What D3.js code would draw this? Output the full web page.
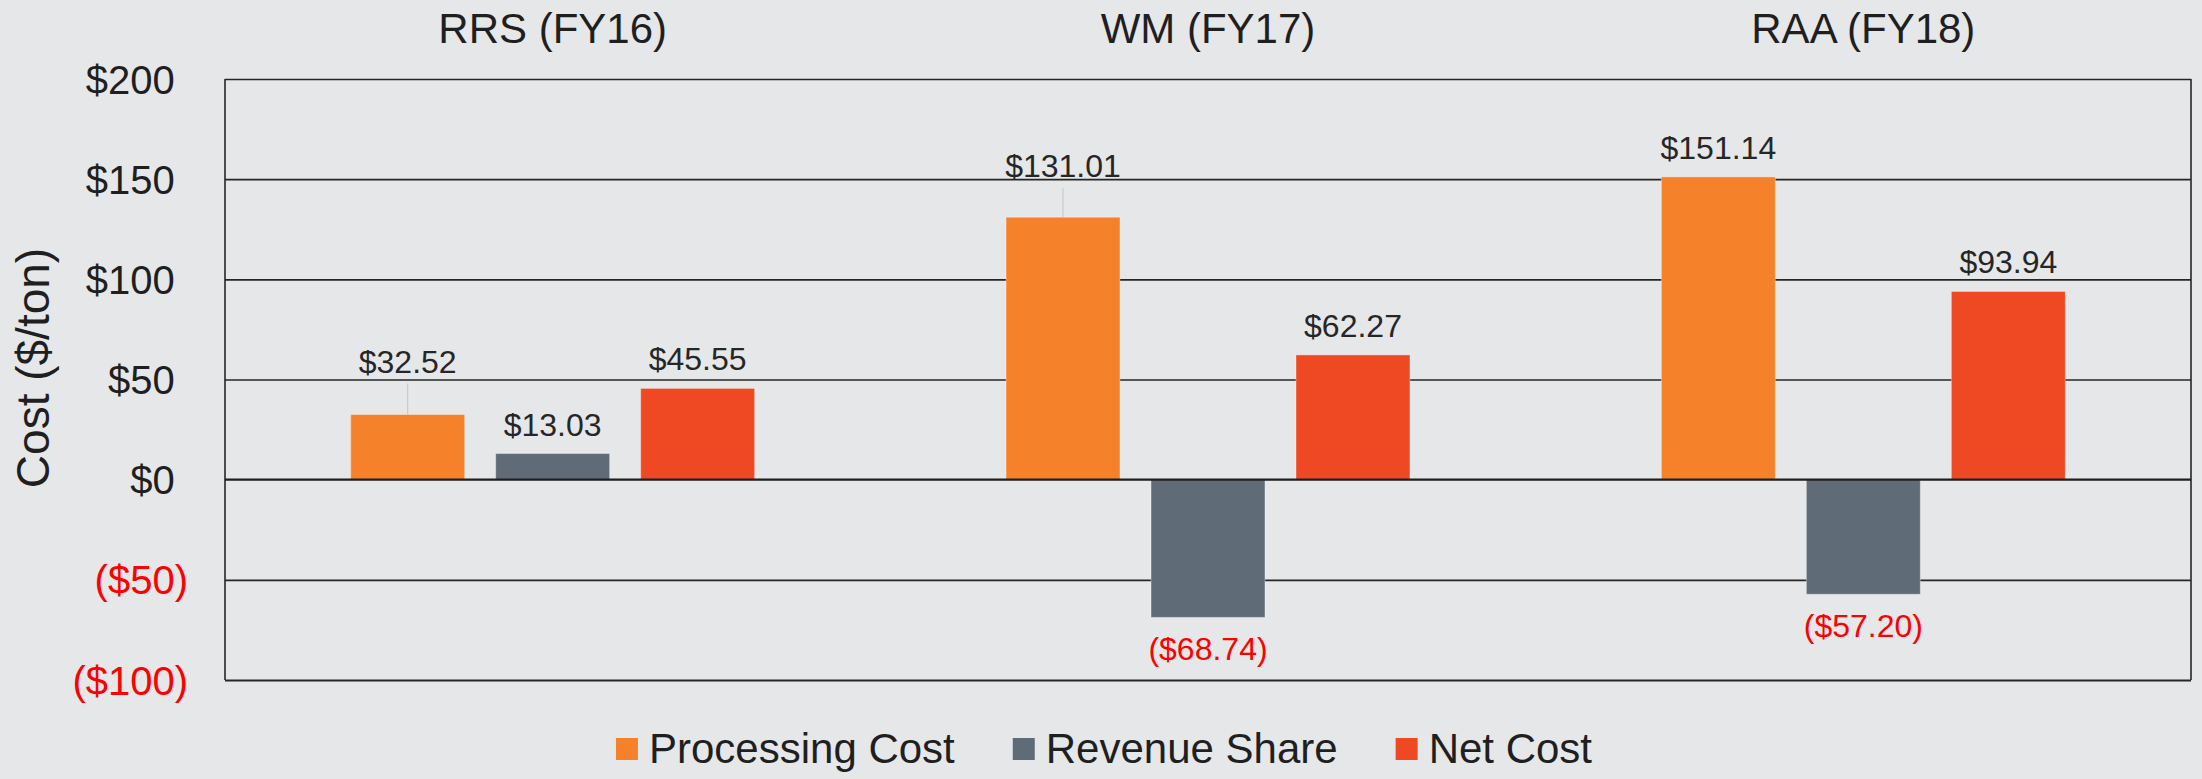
<!DOCTYPE html>
<html>
<head>
<meta charset="utf-8">
<script src="https://cdn.jsdelivr.net/npm/d3@7"></script>
<style>
  body { margin: 0; background: #e6e7e9; }
  svg { display: block; font-family: "Liberation Sans", Arial, sans-serif; }
</style>
</head>
<body>
<svg id="chart" width="2202" height="779"></svg>
<script>
// chart data
var groups = ["RRS (FY16)", "WM (FY17)", "RAA (FY18)"];
var seriesNames = ["Processing Cost", "Revenue Share", "Net Cost"];
var processingCost = [32.52, 131.01, 151.14];
var revenueShare = [13.03, -68.74, -57.20];
var netCost = [45.55, 62.27, 93.94];
var yTicks = [200, 150, 100, 50, 0, -50, -100];
var colors = ["#f5822a", "#5f6b76", "#ef4923"];

var seriesValues = [processingCost, revenueShare, netCost];

var svg = d3.select("#chart"),
    margin = {top: 79, right: 11, bottom: 99, left: 225},
    width = +svg.attr("width") - margin.left - margin.right,
    height = +svg.attr("height") - margin.top - margin.bottom;

var x0 = d3.scaleBand().domain(groups).range([margin.left, margin.left + width]);
var x1 = d3.scaleBand().domain(seriesNames).range([0, x0.bandwidth()])
    .paddingInner(0.214).paddingOuter(0.867);
var y = d3.scaleLinear().domain([-100, 200]).range([margin.top + height, margin.top]);

function money(v) {
  var s = "$" + d3.format(",.2f")(Math.abs(v));
  return v < 0 ? "(" + s + ")" : s;
}

// gridlines (all but zero)
svg.append("g")
    .attr("class", "grid")
    .attr("transform", "translate(" + margin.left + ",0)")
    .call(d3.axisLeft(y).tickValues(yTicks.filter(function(d) { return d != 0; }))
      .tickSize(-width).tickFormat(""))
    .call(function(g) {
      g.select(".domain").remove();
      g.selectAll("line").attr("stroke", "#262626")
        .attr("stroke-width", function(d) { return d == -100 ? 2.2 : 1.6; });
    });

// frame sides
svg.append("line").attr("x1", margin.left).attr("x2", margin.left)
    .attr("y1", y(200)).attr("y2", y(-100)).attr("stroke", "#262626").attr("stroke-width", 1.6);
svg.append("line").attr("x1", margin.left + width).attr("x2", margin.left + width)
    .attr("y1", y(200)).attr("y2", y(-100)).attr("stroke", "#262626").attr("stroke-width", 1.6);

// y tick labels, positive ones padded with an invisible ")" like the Excel format
var yLabels = svg.append("g")
    .attr("transform", "translate(188,0)")
    .call(d3.axisLeft(y).tickValues(yTicks).tickSize(0).tickPadding(0)
      .tickFormat(function(d) { return d < 0 ? "($" + Math.abs(d) + ")" : "$" + d; }));
yLabels.select(".domain").remove();
yLabels.selectAll("text")
    .attr("font-size", 40)
    .attr("font-family", "Liberation Sans, Arial, sans-serif")
    .attr("dy", "0.35em")
    .attr("fill", function(d) { return d < 0 ? "#ff0000" : "#1f1f1f"; })
    .each(function(d) {
      if (d >= 0) d3.select(this).append("tspan").attr("fill-opacity", 0).text(")");
    });

// y axis title
svg.append("text")
    .attr("transform", "translate(49,368) rotate(-90)")
    .attr("text-anchor", "middle")
    .attr("font-size", 46)
    .attr("fill", "#1f1f1f")
    .text("Cost ($/ton)");

// group titles
svg.selectAll(".gtitle").data(groups).enter().append("text")
    .attr("class", "gtitle")
    .attr("x", function(d) { return x0(d) + x0.bandwidth() / 2; })
    .attr("y", 43)
    .attr("text-anchor", "middle")
    .attr("font-size", 42)
    .attr("fill", "#1f1f1f")
    .text(function(d) { return d; });

// flatten
var data = [];
groups.forEach(function(g, gi) {
  seriesNames.forEach(function(s, si) {
    data.push({group: g, series: s, si: si, gi: gi, value: seriesValues[si][gi]});
  });
});

// bars
svg.selectAll(".bar").data(data).enter().append("rect")
    .attr("class", "bar")
    .attr("x", function(d) { return x0(d.group) + x1(d.series); })
    .attr("y", function(d) { return y(Math.max(0, d.value)); })
    .attr("width", x1.bandwidth())
    .attr("height", function(d) { return Math.abs(y(d.value) - y(0)); })
    .attr("fill", function(d) { return colors[d.si]; })
    .attr("stroke", "rgba(255,255,255,0.35)")
    .attr("stroke-width", 1);

// zero line on top of bars
svg.append("line")
    .attr("x1", margin.left).attr("x2", margin.left + width)
    .attr("y1", y(0)).attr("y2", y(0))
    .attr("stroke", "#1f1f1f").attr("stroke-width", 2.4);

// some labels were dragged up in the original, with a leader line
var lift = {"RRS (FY16)|Processing Cost": 24, "WM (FY17)|Processing Cost": 22};

data.forEach(function(d) {
  var cx = x0(d.group) + x1(d.series) + x1.bandwidth() / 2;
  var key = d.group + "|" + d.series;
  var up = lift[key] || 0;
  var ly;
  if (d.value >= 0) {
    ly = y(d.value) - 18 - up;
  } else {
    ly = y(d.value) + 43;
  }
  if (up) {
    svg.append("line")
        .attr("x1", cx).attr("x2", cx)
        .attr("y1", ly + 11).attr("y2", y(d.value))
        .attr("stroke", "#c5cbd1").attr("stroke-width", 1.2);
  }
  svg.append("text")
      .attr("x", cx)
      .attr("y", ly)
      .attr("text-anchor", "middle")
      .attr("font-size", 32)
      .attr("fill", d.value < 0 ? "#ff0000" : "#262626")
      .text(money(d.value));
});

// legend, centred in the page
var legend = svg.append("g").attr("class", "legend");
var lx = 0;
seriesNames.forEach(function(s, i) {
  var item = legend.append("g").attr("transform", "translate(" + lx + ",0)");
  item.append("rect").attr("x", 0).attr("y", 738).attr("width", 22).attr("height", 22)
      .attr("fill", colors[i]);
  var t = item.append("text").attr("x", 33).attr("y", 763)
      .attr("font-size", 42).attr("fill", "#1f1f1f").text(s);
  lx += 33 + t.node().getComputedTextLength() + 58;
});
var legendW = lx - 58;
legend.attr("transform", "translate(" + (1104 - legendW / 2) + ",0)");
</script>
</body>
</html>
